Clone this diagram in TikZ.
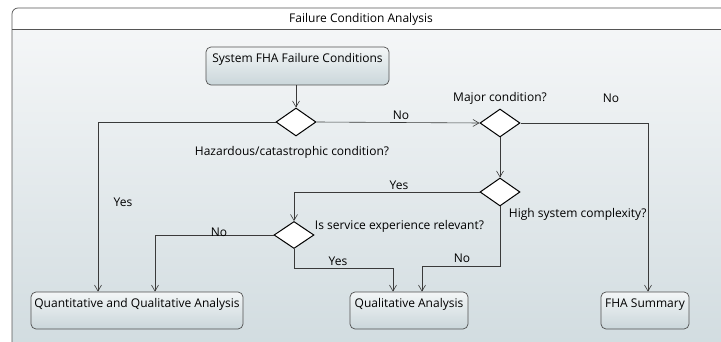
\documentclass[tikz,border=0pt]{standalone}
\usepackage{fontspec}
\setmainfont{Open Sans}
\usetikzlibrary{shapes.geometric,arrows.meta}

\definecolor{linegray}{HTML}{3A3A3A}
\definecolor{framegray}{HTML}{555555}
\definecolor{bgtop}{HTML}{F7F8F9}
\definecolor{bgbot}{HTML}{D0DBDF}
\definecolor{boxtop}{HTML}{F3F6F7}
\definecolor{boxbot}{HTML}{CAD6DA}
\definecolor{boxedge}{HTML}{505050}

\begin{document}
\begin{tikzpicture}[x=1pt,y=1pt,yscale=-1,xscale=1,
  font=\fontsize{12}{14}\selectfont,
  flowline/.style={draw=linegray,line width=0.6pt},
  flowarrow/.style={flowline,-{Straight Barb[length=6pt,width=7pt]}},
  actbox/.style={draw=boxedge,line width=0.7pt,rounded corners=5pt,
    top color=boxtop,bottom color=boxbot,minimum height=37pt,
    inner xsep=1pt,inner ysep=0pt,text height=9pt,text depth=15pt},
  decision/.style={diamond,draw=black,line width=1pt,fill=white,
    minimum width=40pt,minimum height=28pt,inner sep=0pt},
  lbl/.style={inner sep=0.75pt}]
\useasboundingbox (0,0) rectangle (721,342);
\clip (0,0) rectangle (721,342);

%Frame
\shade[top color=bgtop,bottom color=bgbot,rounded corners=6pt] (12,8) rectangle (760,360);
\fill[white] (12,29) [rounded corners=6pt] -- (12,8) -- (760,8) [sharp corners] -- (760,29) -- cycle;
\draw[framegray,line width=0.7pt,rounded corners=6pt] (12,360) -- (12,8) -- (760,8);
\draw[framegray,line width=0.7pt] (12,29) -- (760,29);
% Text Node
\node[lbl] (title) at (361,19) {Failure Condition Analysis};

%Rounded Rect
\node[actbox,minimum width=183pt,minimum height=38pt] (start) at (297.5,66) {System FHA Failure Conditions};
%Rounded Rect
\node[actbox,minimum width=212pt] (quant) at (137,310.5) {Quantitative and Qualitative Analysis};
%Rounded Rect
\node[actbox,minimum width=118pt] (qual) at (409,310.5) {Qualitative Analysis};
%Rounded Rect
\node[actbox,minimum width=88pt] (fha) at (645,310.5) {FHA Summary};

%Flowchart: Decision
\node[decision] (hazard) at (296,122) {};
%Flowchart: Decision
\node[decision] (major) at (500,123) {};
%Flowchart: Decision
\node[decision] (complex) at (500,192) {};
%Flowchart: Decision
\node[decision,minimum height=27pt] (service) at (294,235) {};

%Straight Lines
\draw[flowarrow] (start.south -| hazard.north) -- (hazard.north);
\draw[flowarrow] (hazard.west) -| ([xshift=-39pt]quant.north);
\draw[flowarrow] (hazard.east) -- (major.west);
\draw[flowarrow] (major.east) -| ([xshift=3pt]fha.north);
\draw[flowarrow] (major.south) -- (complex.north);
\draw[flowarrow] (complex.west) -| (service.north);
\draw[flowarrow] (service.west) -| ([xshift=18pt]quant.north);
\coordinate (yesbend) at (393,268);
\draw[flowarrow] (service.south) |- (yesbend) -- (yesbend |- qual.north);
\coordinate (nobend) at (422,266);
\draw[flowarrow] (complex.south) |- (nobend) -- (nobend |- qual.north);

% Text Node
\node[lbl] (lhazard) at (292,152) {Hazardous/catastrophic condition?};
% Text Node
\node[lbl] (lmajor) at (500,98) {Major condition?};
% Text Node
\node[lbl] (lmajorno) at (611,98) {No};
% Text Node
\node[lbl] (lhazardno) at (401,115) {No};
% Text Node
\node[lbl] (lhazardyes) at (123,202) {Yes};
% Text Node
\node[lbl,anchor=west] (lcomplex) at (508,214) {High system complexity?};
% Text Node
\node[lbl] (lcomplexyes) at (399,185) {Yes};
% Text Node
\node[lbl] (lcomplexno) at (462,258) {No};
% Text Node
\node[lbl,anchor=west] (lservice) at (314,226) {Is service experience relevant?};
% Text Node
\node[lbl] (lserviceno) at (219,232) {No};
% Text Node
\node[lbl] (lserviceyes) at (338,261) {Yes};

\end{tikzpicture}
\end{document}
